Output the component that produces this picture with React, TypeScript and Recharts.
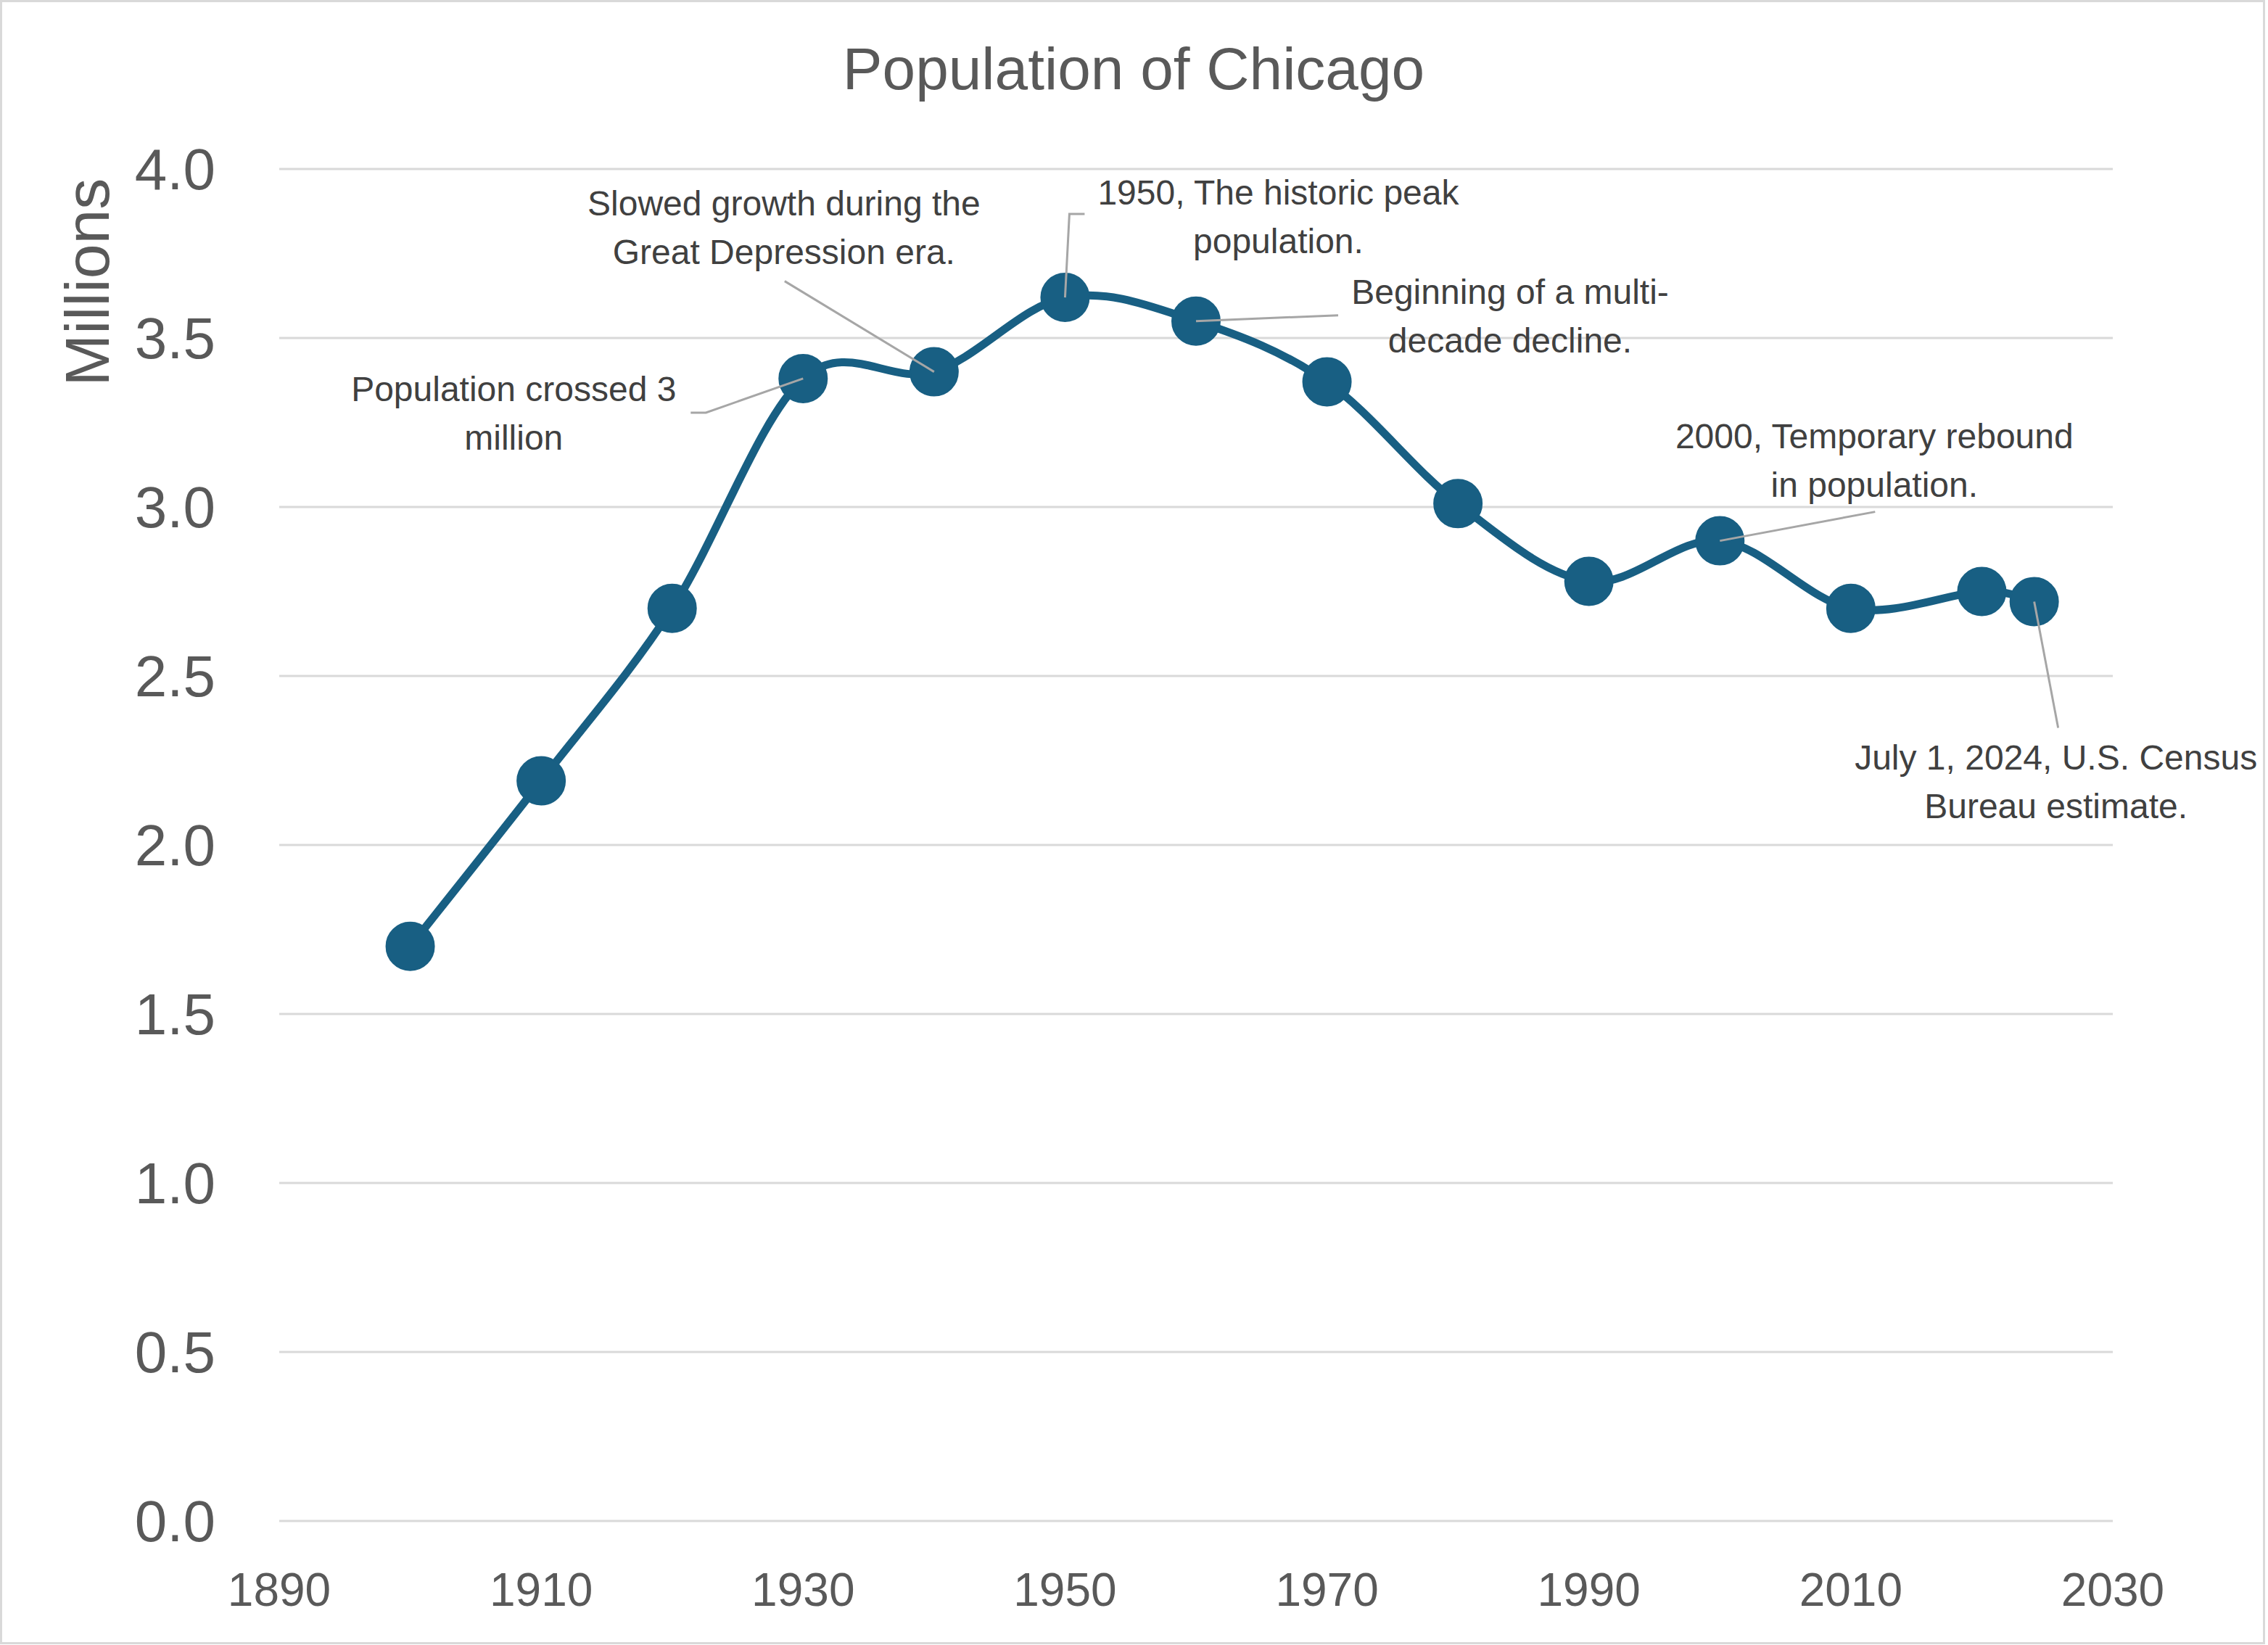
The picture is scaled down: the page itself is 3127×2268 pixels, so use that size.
import React from 'react';
import { LineChart, Line, XAxis, YAxis, CartesianGrid, LabelList } from 'recharts';

const years = [1900, 1910, 1920, 1930, 1940, 1950, 1960, 1970, 1980, 1990, 2000, 2010, 2020, 2024];
const population = [1.70, 2.19, 2.70, 3.38, 3.40, 3.62, 3.55, 3.37, 3.01, 2.78, 2.90, 2.70, 2.75, 2.72];
const xTicks = [1890, 1910, 1930, 1950, 1970, 1990, 2010, 2030];
const yTicks = [0, 0.5, 1, 1.5, 2, 2.5, 3, 3.5, 4];

const noteYears = [1930, 1940, 1950, 1960, 2000, 2024];
const noteTexts = [
  ['Population crossed 3', 'million'],
  ['Slowed growth during the', 'Great Depression era.'],
  ['1950, The historic peak', 'population.'],
  ['Beginning of a multi-', 'decade decline.'],
  ['2000, Temporary rebound', 'in population.'],
  ['July 1, 2024, U.S. Census', 'Bureau estimate.'],
];

// offsets from the data point (px): text centre + first baseline, then the leader path
const noteLayout = [
  { dx: -399, dy: 31, leader: [[-134, 47], [-155, 47]] },
  { dx: -207, dy: -216, leader: [[-206, -125]] },
  { dx: 294, dy: -128, leader: [[6, -115], [27, -115]] },
  { dx: 433, dy: -24, leader: [[196, -8]] },
  { dx: 213, dy: -128, leader: [[214, -40]] },
  { dx: 30, dy: 232, leader: [[33, 174]] },
];

const FONT = "'Liberation Sans', Arial, sans-serif";
const BLUE = '#185f83';

const data = years.map((year, i) => ({ year, pop: population[i] }));

// Excel-like smoothed line (Catmull-Rom through every point)
function smoothCurve(context: any) {
  let pts: number[][] = [];
  return {
    areaStart() {},
    areaEnd() {},
    lineStart() { pts = []; },
    point(x: number, y: number) { pts.push([+x, +y]); },
    lineEnd() {
      if (!pts.length) return;
      context.moveTo(pts[0][0], pts[0][1]);
      for (let i = 0; i < pts.length - 1; i++) {
        const p0 = pts[Math.max(0, i - 1)];
        const p1 = pts[i];
        const p2 = pts[i + 1];
        const p3 = pts[Math.min(pts.length - 1, i + 2)];
        context.bezierCurveTo(
          p1[0] + (p2[0] - p0[0]) / 6, p1[1] + (p2[1] - p0[1]) / 6,
          p2[0] - (p3[0] - p1[0]) / 6, p2[1] - (p3[1] - p1[1]) / 6,
          p2[0], p2[1]
        );
      }
    },
  };
}

function Note(props: any) {
  const x = props.viewBox?.x ?? props.x;
  const y = props.viewBox?.y ?? props.y;
  let idx = props.index;
  if (idx === undefined) idx = population.indexOf(props.value);
  const k = noteYears.indexOf(years[idx]);
  if (k < 0 || x == null || y == null) return null;
  const lay = noteLayout[k];
  const path = [[0, 0], ...lay.leader].map((p, i) => `${i ? 'L' : 'M'}${x + p[0]},${y + p[1]}`).join(' ');
  return (
    <g>
      <path d={path} stroke="#a6a6a6" strokeWidth={3} fill="none" />
      {noteTexts[k].map((line, j) => (
        <text key={j} x={x + lay.dx} y={y + lay.dy + j * 67} textAnchor="middle"
          fontFamily={FONT} fontSize={48} fill="#404040">{line}</text>
      ))}
    </g>
  );
}

export default function App() {
  return (
    <div style={{ position: 'absolute', left: 0, top: 0, width: 3127, height: 2268, background: '#fff' }}>
      <LineChart width={3127} height={2268} data={data} margin={{ top: 233, right: 214, bottom: 0, left: 0 }}>
        <CartesianGrid vertical={false} stroke="#d9d9d9" strokeWidth={3} />
        <XAxis dataKey="year" type="number" domain={[1890, 2030]} ticks={xTicks} interval={0}
          axisLine={false} tickLine={false} tickSize={0} tickMargin={72} height={171}
          tick={{ fontSize: 64, fill: '#595959', fontFamily: FONT }} />
        <YAxis type="number" domain={[0, 4]} ticks={yTicks} interval={0} width={385}
          axisLine={false} tickLine={false} tickSize={0} tickMargin={88}
          tickFormatter={(v: number) => v.toFixed(1)}
          tick={{ fontSize: 80, fill: '#595959', fontFamily: FONT }} />
        <Line dataKey="pop" type={smoothCurve as any} stroke={BLUE} strokeWidth={11}
          dot={{ r: 33, fill: BLUE, stroke: BLUE, strokeWidth: 2 }} activeDot={false}
          isAnimationActive={false}>
          <LabelList dataKey="pop" content={Note} />
        </Line>
      </LineChart>
      <svg width={3127} height={2268} style={{ position: 'absolute', left: 0, top: 0, pointerEvents: 'none' }}>
        <text x={1563} y={123} textAnchor="middle" fontFamily={FONT} fontSize={82} fill="#595959">
          Population of Chicago
        </text>
        <text x={150} y={389} textAnchor="middle" fontFamily={FONT} fontSize={86} fill="#595959"
          transform="rotate(-90 150 389)">Millions</text>
        <rect x={1.5} y={1.5} width={3120} height={2264} fill="none" stroke="#d9d9d9" strokeWidth={3} />
      </svg>
    </div>
  );
}
